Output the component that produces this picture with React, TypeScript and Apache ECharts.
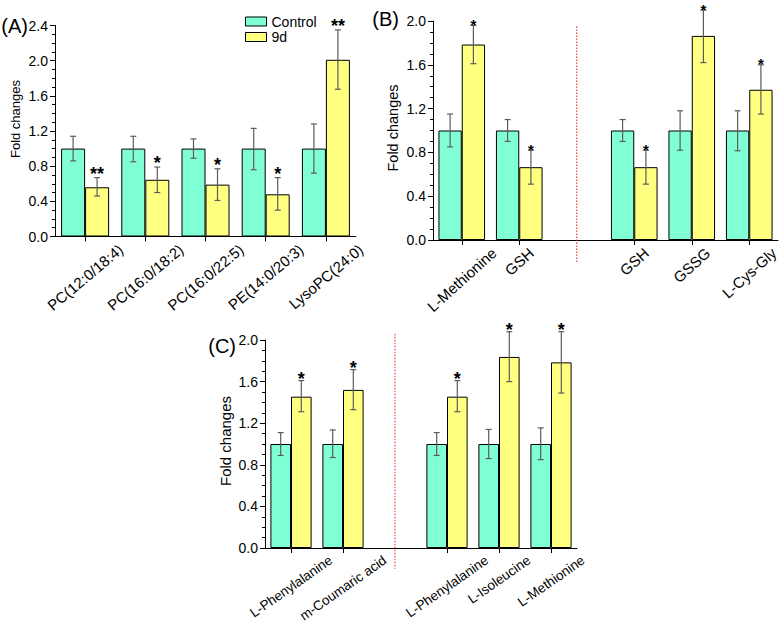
import React, { useEffect, useRef } from 'react';
import * as echarts from 'echarts';

const FONT = 'Liberation Sans, Arial, sans-serif';
const CONTROL_COLOR = '#80FFD4';
const D9_COLOR = '#FFFF80';

// ---------- Panel A ----------
const catsA = ['PC(12:0/18:4)', 'PC(16:0/18:2)', 'PC(16:0/22:5)', 'PE(14:0/20:3)', 'LysoPC(24:0)'];
const ctrlA = [1, 1, 1, 1, 1];
const ctrlLowA = [0.86, 0.85, 0.89, 0.76, 0.72];
const ctrlHighA = [1.14, 1.14, 1.11, 1.23, 1.28];
const d9A = [0.56, 0.645, 0.59, 0.48, 2.01];
const d9LowA = [0.46, 0.5, 0.41, 0.3, 1.675];
const d9HighA = [0.67, 0.79, 0.77, 0.67, 2.35];
const sigA = ['**', '*', '*', '*', '**'];
const yMaxA = 2.4;

// ---------- Panel B ----------
const catsB = ['L-Methionine', 'GSH', '', 'GSH', 'GSSG', 'L-Cys-Gly'];
const ctrlB = [1, 1, null, 1, 1, 1];
const ctrlLowB = [0.85, 0.9, null, 0.9, 0.82, 0.815];
const ctrlHighB = [1.15, 1.1, null, 1.1, 1.18, 1.18];
const d9B = [1.785, 0.665, null, 0.665, 1.864, 1.372];
const d9LowB = [1.61, 0.51, null, 0.51, 1.62, 1.15];
const d9HighB = [1.96, 0.82, null, 0.82, 2.1, 1.6];
const sigB = ['*', '*', '', '*', '*', '*'];
const yMaxB = 2.0;
const dividerB = [2, 1.95, -0.2];

// ---------- Panel C ----------
const catsC = ['L-Phenylalanine', 'm-Coumaric acid', '', 'L-Phenylalanine', 'L-Isoleucine', 'L-Methionine'];
const ctrlC = [1, 1, null, 1, 1, 1];
const ctrlLowC = [0.89, 0.87, null, 0.89, 0.86, 0.85];
const ctrlHighC = [1.11, 1.135, null, 1.11, 1.14, 1.155];
const d9C = [1.455, 1.52, null, 1.455, 1.837, 1.785];
const d9LowC = [1.31, 1.33, null, 1.31, 1.6, 1.49];
const d9HighC = [1.61, 1.715, null, 1.61, 2.08, 2.08];
const sigC = ['*', '*', '', '*', '*', '*'];
const yMaxC = 2.0;
const dividerC = [2, 2.06, -0.2];

const yStep = 0.4;
const yTitle = 'Fold changes';
const panelTags = ['(A)', '(B)', '(C)'];

let measureCtx: CanvasRenderingContext2D | null = null;
function measure(text: string, size: number): number {
  if (!measureCtx) measureCtx = document.createElement('canvas').getContext('2d');
  if (!measureCtx) return text.length * size * 0.55;
  measureCtx.font = `${size}px ${FONT}`;
  return measureCtx.measureText(text).width;
}

type Panel = {
  cats: string[];
  ctrl: (number | null)[];
  ctrlLow: (number | null)[];
  ctrlHigh: (number | null)[];
  d9: (number | null)[];
  d9Low: (number | null)[];
  d9High: (number | null)[];
  sig: string[];
  yMax: number;
  grid: any;
  barWidth: number;
  sigSize: number;
  sigOffset: number;
  labelSize: number;
  labelAngle: number;
  divider?: number[];
  title: number[];
  titleSize: number;
  tag: number[];
};

const panels: Panel[] = [
  {
    cats: catsA, ctrl: ctrlA, ctrlLow: ctrlLowA, ctrlHigh: ctrlHighA, d9: d9A, d9Low: d9LowA, d9High: d9HighA,
    sig: sigA, yMax: yMaxA, grid: { left: 55, top: 25.5, width: 301, height: 211 }, barWidth: 24,
    sigSize: 18, sigOffset: 4, labelSize: 15, labelAngle: 40, title: [15, 119], titleSize: 13, tag: [28, 26],
  },
  {
    cats: catsB, ctrl: ctrlB, ctrlLow: ctrlLowB, ctrlHigh: ctrlHighB, d9: d9B, d9Low: d9LowB, d9High: d9HighB,
    sig: sigB, yMax: yMaxB, grid: { left: 433, top: 21, width: 345, height: 219 }, barWidth: 23.3,
    sigSize: 15, sigOffset: 1, labelSize: 15, labelAngle: 42, divider: dividerB, title: [393, 128], titleSize: 14.5,
    tag: [399, 19],
  },
  {
    cats: catsC, ctrl: ctrlC, ctrlLow: ctrlLowC, ctrlHigh: ctrlHighC, d9: d9C, d9Low: d9LowC, d9High: d9HighC,
    sig: sigC, yMax: yMaxC, grid: { left: 265, top: 340, width: 312, height: 208 }, barWidth: 20.6,
    sigSize: 18, sigOffset: 2, labelSize: 13.5, labelAngle: 35, divider: dividerC, title: [225, 441], titleSize: 15,
    tag: [236, 346],
  },
];

function buildOption() {
  const grid: any[] = [];
  const xAxis: any[] = [];
  const yAxis: any[] = [];
  const series: any[] = [];
  const graphic: any[] = [];

  panels.forEach((p, k) => {
    grid.push({ ...p.grid, containLabel: false });
    xAxis.push({
      gridIndex: k,
      type: 'category',
      data: p.cats,
      boundaryGap: true,
      axisLine: { show: true, lineStyle: { color: '#000', width: 1 } },
      axisTick: {
        show: true,
        alignWithLabel: true,
        length: 5,
        interval: (i: number) => p.cats[i] !== '',
        lineStyle: { color: '#000', width: 1 },
      },
      axisLabel: { show: false },
      splitLine: { show: false },
    });
    yAxis.push({
      gridIndex: k,
      type: 'value',
      min: 0,
      max: p.yMax,
      interval: yStep,
      axisLine: { show: true, lineStyle: { color: '#000', width: 1 } },
      axisTick: { show: true, length: 5, lineStyle: { color: '#000', width: 1 } },
      minorTick: { show: true, splitNumber: 4, length: 3, lineStyle: { color: '#000', width: 1 } },
      splitLine: { show: false },
      minorSplitLine: { show: false },
      axisLabel: {
        color: '#000', fontSize: 14, fontFamily: FONT, margin: 7,
        formatter: (v: number) => v.toFixed(1),
      },
    });

    series.push({
      type: 'bar', name: 'Control', xAxisIndex: k, yAxisIndex: k, data: p.ctrl,
      barWidth: p.barWidth, barGap: '0%',
      itemStyle: { color: CONTROL_COLOR, borderColor: '#000', borderWidth: 1 },
    });
    series.push({
      type: 'bar', name: '9d', xAxisIndex: k, yAxisIndex: k, data: p.d9,
      barWidth: p.barWidth, barGap: '0%',
      itemStyle: { color: D9_COLOR, borderColor: '#000', borderWidth: 1 },
    });

    const errData: any[] = [];
    p.cats.forEach((_, i) => {
      if (p.ctrl[i] != null) errData.push([i, p.ctrlLow[i], p.ctrlHigh[i], 0]);
      if (p.d9[i] != null) errData.push([i, p.d9Low[i], p.d9High[i], 1]);
    });
    const bw = p.barWidth;
    series.push({
      type: 'custom', name: 'err' + k, xAxisIndex: k, yAxisIndex: k, data: errData, z: 5, clip: false,
      renderItem: (params: any, api: any) => {
        const i = api.value(0);
        const lo = api.coord([i, api.value(1)]);
        const hi = api.coord([i, api.value(2)]);
        const x = lo[0] + (api.value(3) === 0 ? -bw / 2 : bw / 2);
        const cap = 3;
        const st = { stroke: '#5c5c5c', lineWidth: 1.2 };
        return {
          type: 'group',
          children: [
            { type: 'line', shape: { x1: x, y1: hi[1], x2: x, y2: lo[1] }, style: st },
            { type: 'line', shape: { x1: x - cap, y1: hi[1], x2: x + cap, y2: hi[1] }, style: st },
            { type: 'line', shape: { x1: x - cap, y1: lo[1], x2: x + cap, y2: lo[1] }, style: st },
          ],
        };
      },
    });

    const sigData: any[] = [];
    p.cats.forEach((_, i) => {
      if (p.sig[i]) sigData.push([i, p.d9High[i]]);
    });
    series.push({
      type: 'custom', name: 'sig' + k, xAxisIndex: k, yAxisIndex: k, data: sigData, z: 6, clip: false,
      renderItem: (params: any, api: any) => {
        const i = api.value(0);
        const c = api.coord([i, api.value(1)]);
        return {
          type: 'text',
          x: c[0] + bw / 2,
          y: c[1] - p.sigOffset,
          style: {
            text: p.sig[i],
            fill: '#000',
            fontSize: p.sigSize,
            fontFamily: FONT,
            fontWeight: 'bold',
            align: 'center',
            verticalAlign: 'middle',
          },
        };
      },
    });

    // rotated category labels, centred under their ticks
    const th = (p.labelAngle * Math.PI) / 180;
    series.push({
      type: 'custom', name: 'lab' + k, xAxisIndex: k, yAxisIndex: k,
      data: p.cats.map((_, i) => [i, 0]), z: 6, clip: false, silent: true,
      renderItem: (params: any, api: any) => {
        const i = params.dataIndex;
        const text = p.cats[i];
        if (!text) return null;
        const c = api.coord([i, 0]);
        const w = measure(text, p.labelSize);
        const h = p.labelSize;
        return {
          type: 'text',
          x: c[0] + (w * Math.cos(th)) / 2 - (h * Math.sin(th)) / 2,
          y: c[1] + 5,
          rotation: th,
          style: {
            text,
            fill: '#000',
            fontSize: p.labelSize,
            fontFamily: FONT,
            align: 'right',
            verticalAlign: 'top',
          },
        };
      },
    });

    if (p.divider) {
      series.push({
        type: 'custom', name: 'div' + k, xAxisIndex: k, yAxisIndex: k,
        data: [p.divider], z: 4, clip: false, silent: true,
        renderItem: (params: any, api: any) => {
          const a = api.coord([api.value(0), api.value(1)]);
          const b = api.coord([api.value(0), api.value(2)]);
          return {
            type: 'line',
            shape: { x1: a[0], y1: a[1], x2: b[0], y2: b[1] },
            style: { stroke: '#e0201c', lineWidth: 1, lineDash: [1.5, 1.5] },
          };
        },
      });
    }

    graphic.push({
      type: 'text', x: p.title[0], y: p.title[1], rotation: Math.PI / 2,
      style: { text: yTitle, fill: '#000', fontSize: p.titleSize, fontFamily: FONT, align: 'center', verticalAlign: 'middle' },
    });
    graphic.push({
      type: 'text', x: p.tag[0], y: p.tag[1],
      style: { text: panelTags[k], fill: '#000', fontSize: 20, fontFamily: FONT, align: 'right', verticalAlign: 'middle' },
    });
  });

  const legendCommon = {
    orient: 'vertical',
    left: 245,
    itemWidth: 21,
    itemHeight: 9,
    itemGap: 0,
    padding: 0,
    icon: 'rect',
    selectedMode: false,
    itemStyle: { borderColor: '#000', borderWidth: 1 },
    textStyle: { fontSize: 14, lineHeight: 12, color: '#000', fontFamily: FONT },
  };

  return {
    animation: false,
    backgroundColor: '#fff',
    grid,
    xAxis,
    yAxis,
    series,
    legend: [
      { ...legendCommon, top: 14.5, data: ['Control'] },
      { ...legendCommon, top: 30, data: ['9d'] },
    ],
    graphic,
  };
}

export default function App() {
  const ref = useRef<HTMLDivElement>(null);
  useEffect(() => {
    if (!ref.current) return;
    const chart = echarts.init(ref.current, undefined, { renderer: 'svg' });
    chart.setOption(buildOption() as any);
    return () => chart.dispose();
  }, []);
  return (
    <div
      ref={ref}
      style={{ position: 'absolute', left: 0, top: 0, width: 782, height: 631, background: '#fff' }}
    />
  );
}
